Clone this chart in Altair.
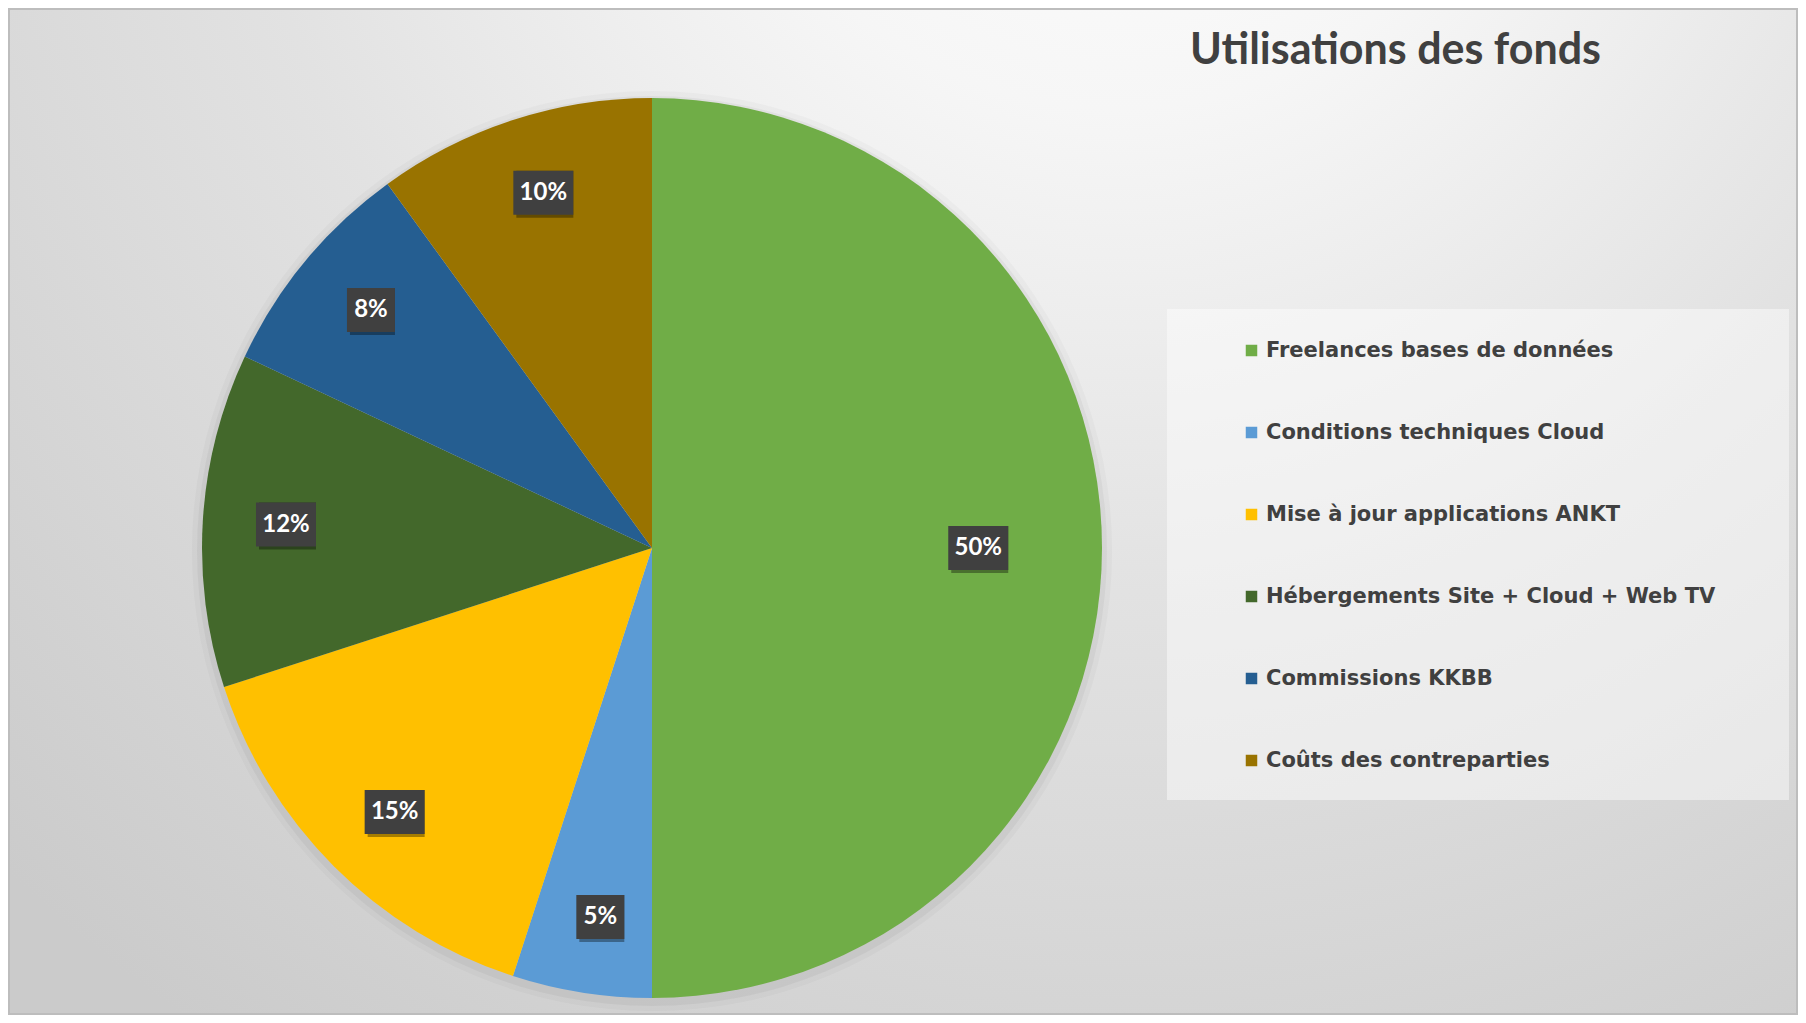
import altair as alt
import pandas as pd

categories = [
    "Freelances bases de données",
    "Conditions techniques Cloud",
    "Mise à jour applications ANKT",
    "Hébergements Site + Cloud + Web TV",
    "Commissions KKBB",
    "Coûts des contreparties",
]
values = [50, 5, 15, 12, 8, 10]
colors = ["#70AD47", "#5B9BD5", "#FFC000", "#43682B", "#255E91", "#997300"]
title_text = "Utilisations des fonds"

df = pd.DataFrame({"categorie": categories, "valeur": values,
                   "ordre": list(range(len(categories)))})

W = H = 900
PAD_L, PAD_T = 194, 90
TOTAL_W, TOTAL_H = 1790, 1007

base = alt.Chart(df)
single = base.transform_aggregate(total="sum(valeur)")

grad = alt.RadialGradient(
    gradient="radial",
    x1=0.62, y1=0.05, r1=0.0,
    x2=0.62, y2=0.05, r2=0.9,
    stops=[
        alt.GradientStop(color="#ffffff", offset=0.0),
        alt.GradientStop(color="#f6f6f6", offset=0.25),
        alt.GradientStop(color="#e2e2e2", offset=0.55),
        alt.GradientStop(color="#cbcbcb", offset=1.0),
    ],
)

background = single.mark_rect(fill=grad, stroke="#bdbdbd", strokeWidth=2).encode(
    x=alt.value(-PAD_L + 1), x2=alt.value(TOTAL_W - PAD_L - 1),
    y=alt.value(-PAD_T + 1), y2=alt.value(TOTAL_H - PAD_T - 1),
)

title = single.mark_text(
    font="Lato", fontWeight="bold", fontSize=43, color="#404040",
    align="left", baseline="alphabetic",
).encode(x=alt.value(988), y=alt.value(-34), text=alt.value(title_text))

legend_box = single.mark_rect(fill="#ffffff", opacity=0.45).encode(
    x=alt.value(965), x2=alt.value(1587), y=alt.value(211), y2=alt.value(702)
)

pie_shadow1 = single.mark_arc(color="#000000", opacity=0.025, radius=460, yOffset=3).encode(
    theta=alt.Theta("total:Q")
)
pie_shadow2 = single.mark_arc(color="#000000", opacity=0.04, radius=455, yOffset=3).encode(
    theta=alt.Theta("total:Q")
)

pie = base.mark_arc().encode(
    theta=alt.Theta("valeur:Q", stack=True),
    color=alt.Color(
        "categorie:N",
        scale=alt.Scale(domain=categories, range=colors),
        sort=categories,
        legend=alt.Legend(
            title=None, orient="none", legendX=1039, legendY=242,
            direction="vertical", symbolType="square", symbolSize=132,
            symbolStrokeWidth=0, labelFont="DejaVu Sans", labelFontWeight="bold",
            labelFontSize=21, labelColor="#404040", labelLimit=700,
            rowPadding=60, labelOffset=4, padding=0,
        ),
    ),
    order=alt.Order("ordre:Q"),
)

lab = base.transform_window(
    cum="sum(valeur)", sort=[alt.SortField("ordre")], frame=[None, 0]
).transform_joinaggregate(total="sum(valeur)").transform_calculate(
    mid="(datum.cum - datum.valeur/2)/datum.total*2*PI",
    rr="datum.valeur/datum.total >= 0.5 ? 0.71 : 0.83",
    lx="datum.rr*sin(datum.mid) + 0.015",
    ly="datum.rr*cos(datum.mid)",
    txt="format(datum.valeur/datum.total, '.0%')",
    hw="(length(datum.txt)*12+24)/2/450",
    x1="datum.lx-datum.hw",
    x2="datum.lx+datum.hw",
    y1="datum.ly-22/450",
    y2="datum.ly+22/450",
)

xs = alt.Scale(domain=[-1, 1], nice=False, zero=False)
ys = alt.Scale(domain=[-1, 1], nice=False, zero=False)

box_enc = dict(
    x=alt.X("x1:Q", scale=xs, axis=None), x2="x2:Q",
    y=alt.Y("y1:Q", scale=ys, axis=None), y2="y2:Q",
)
box_shadow = lab.mark_rect(fill="#000000", opacity=0.35, xOffset=3, yOffset=3).encode(**box_enc)
boxes = lab.mark_rect(fill="#404040").encode(**box_enc)
texts = lab.mark_text(
    font="Lato", fontWeight="bold", fontSize=24, color="white",
    baseline="middle", align="center",
).encode(
    x=alt.X("lx:Q", scale=xs, axis=None),
    y=alt.Y("ly:Q", scale=ys, axis=None),
    text="txt:N",
)

chart = alt.layer(
    background, title, legend_box, pie_shadow1, pie_shadow2, pie,
    box_shadow, boxes, texts
).properties(
    width=W, height=H,
    padding={"left": PAD_L, "top": PAD_T, "right": TOTAL_W - PAD_L - W,
             "bottom": TOTAL_H - PAD_T - H},
    autosize=alt.AutoSizeParams(type="none"),
    background="white",
).configure_view(stroke=None)

chart.save("out.html", embed_options={"renderer": "svg", "actions": False})
